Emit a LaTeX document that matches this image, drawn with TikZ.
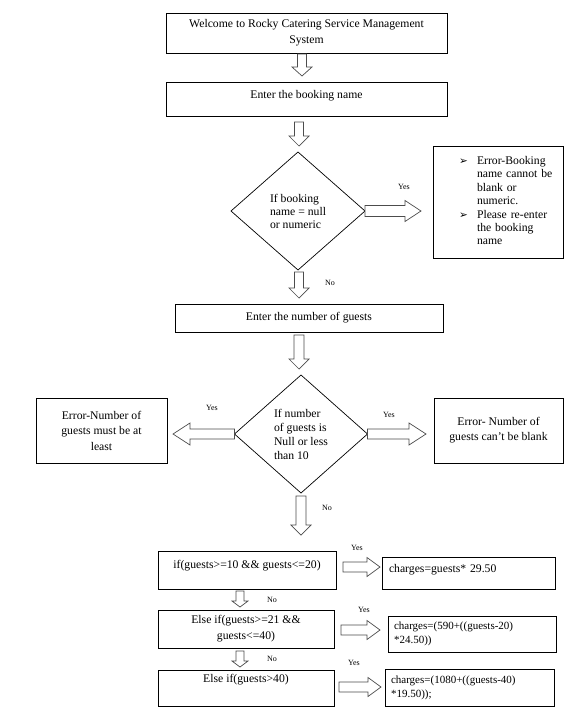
\documentclass[tikz,border=0pt]{standalone}
\usepackage{fontspec}
\setmainfont{Liberation Serif}
\newfontfamily\dvfont{DejaVu Sans}
\usetikzlibrary{shapes.geometric,calc}
\begin{document}
\begin{tikzpicture}[x=1pt,y=-1pt,
  every node/.style={inner sep=0pt, outer sep=0pt},
  box/.style={draw=black, line width=0.7pt, rectangle, anchor=north west, font=\fontsize{11.7}{14}\selectfont},
  dia/.style={draw=black, line width=0.7pt, diamond, align=left},
  lbl/.style={font=\fontsize{8}{9}\selectfont},
  harrow/.style n args={3}{draw=black!70, line width=0.7pt, fill=white, line join=miter,
    to path={let \p1=($(\tikztotarget)!#3!(\tikztostart)$) in
      ($(\tikztostart)!#1!90:(\tikztotarget)$)
      -- ($(\p1)!#1!-90:(\tikztostart)$)
      -- ($(\p1)!#2!-90:(\tikztostart)$)
      -- (\tikztotarget)
      -- ($(\p1)!#2!90:(\tikztostart)$)
      -- ($(\p1)!#1!90:(\tikztostart)$)
      -- ($(\tikztostart)!#1!-90:(\tikztotarget)$)
      -- cycle}},
]
\useasboundingbox (0,0) rectangle (576,710);

% top boxes
\node[box, minimum width=281pt, minimum height=40pt, align=center, font=\fontsize{11.7}{16}\selectfont] (b1) at (166,13)
  {Welcome to Rocky Catering Service Management\\System};
\node[box, minimum width=281pt, minimum height=34pt, text height=16.5pt, text depth=17.5pt] (b2) at (166,82)
  {Enter the booking name};
\draw[harrow={4.5pt}{10pt}{9pt}] ($(b1.south)+(-4.5,1)$) to ($(b2.north)+(-4.5,-6)$);

% first decision
\node[dia, minimum width=134pt, minimum height=118pt, font=\fontsize{11.7}{13}\selectfont] (d1) at (298,211)
  {If booking\\name = null\\or numeric};
\draw[harrow={4.5pt}{10pt}{10pt}] ($(b2.south)+(-7.5,6)$) to ($(d1.north)+(1,-6)$);

\node[box, minimum width=130pt, minimum height=112pt, text width=130pt, align=left] (e1) at (433,146)
  {\hspace*{26pt}{\fontsize{11.7}{13.4}\selectfont\begin{tabular}{@{}p{18pt}@{}l@{}}
   {\dvfont\fontsize{10.5}{9}\selectfont ➢} & Error-Booking\\
   & name cannot be\\
   & blank or\\
   & numeric.\\
   {\dvfont\fontsize{10.5}{9}\selectfont ➢} & Please re-enter\\
   & the booking\\
   & name
  \end{tabular}}};
\draw[harrow={5.5pt}{10.5pt}{16pt}] (d1.east) to ($(e1.west |- d1.east)+(-12,0)$);
\node[lbl] (y1) at (404,187) {Yes};

\node[lbl] (n1) at (330,283) {No};
\node[box, minimum width=268pt, minimum height=28pt] (b3) at (175,304) {Enter the number of guests};
\draw[harrow={4.5pt}{10pt}{10pt}] ($(d1.south)+(1,2)$) to ($(b3.north)+(-10,-6)$);

% second decision
\node[dia, minimum width=133pt, minimum height=118pt, font=\fontsize{11.7}{14}\selectfont] (d2) at (301,434)
  {If number\\of guests is\\Null or less\\than 10};
\draw[harrow={5pt}{10pt}{10pt}] ($(b3.south)+(-10,3)$) to ($(d2.north)+(-2,-6)$);

\node[box, minimum width=131pt, minimum height=65pt, align=center, font=\fontsize{11.7}{15.5}\selectfont] (lb) at (36,398)
  {Error-Number of\\guests must be at\\least};
\draw[harrow={5pt}{11pt}{17pt}] (d2.west) to ($(lb.east |- d2.west)+(6,0)$);
\node[lbl] (y2) at (212,408) {Yes};

\node[box, minimum width=129pt, minimum height=65pt, align=center, font=\fontsize{11.7}{15}\selectfont] (rb) at (434,398)
  {Error- Number of\\guests can’t be blank};
\draw[harrow={5pt}{11pt}{17pt}] (d2.east) to ($(rb.west |- d2.east)+(-8,0)$);
\node[lbl] (y3) at (389,415) {Yes};

\node[lbl] (n2) at (327,508) {No};

% charge rules
\node[box, minimum width=178pt, minimum height=38pt, text height=17pt, text depth=21pt] (b4) at (158,551)
  {if(guests>=10 \&\& guests<=20)};
\draw[harrow={5pt}{10pt}{10pt}] ($(d2.south)+(0,3)$) to ($(b4.north)+(54,-16)$);

\node[box, minimum width=173pt, minimum height=32pt, text width=159pt, inner xsep=7pt, align=left, text height=15pt, text depth=17pt] (b5) at (382,557)
  {charges=guests* 29.50};
\draw[harrow={5pt}{9.5pt}{13pt}] ($(b4.east)+(7,-3)$) to ($(b5.west |- b4.east)+(-2,-3)$);
\node[lbl] (y4) at (357,548) {Yes};

\node[box, minimum width=176pt, minimum height=38pt, align=center, font=\fontsize{11.7}{16}\selectfont] (b6) at (158,610)
  {Else if(guests>=21 \&\&\\guests<=40)};
\draw[harrow={4pt}{8pt}{6pt}] ($(b4.south)+(-7,2)$) to ($(b6.north)+(-6,-3)$);
\node[lbl] (n3) at (272,600) {No};

\node[box, minimum width=168pt, minimum height=36pt, text width=156pt, inner xsep=6pt, align=left, font=\fontsize{11}{14}\selectfont] (b7) at (388,616)
  {charges=(590+((guests-20)\\{}*24.50))};
\draw[harrow={5pt}{9.5pt}{13pt}] ($(b6.east)+(7,1)$) to ($(b7.west |- b6.east)+(-8,1)$);
\node[lbl] (y5) at (364,610) {Yes};

\node[box, minimum width=176pt, minimum height=36pt, text height=12pt, text depth=24pt] (b8) at (158,670)
  {Else if(guests>40)};
\draw[harrow={4pt}{8pt}{6pt}] ($(b6.south)+(-6,3)$) to ($(b8.north)+(-6,-3)$);
\node[lbl] (n4) at (272,659) {No};

\node[box, minimum width=169pt, minimum height=37pt, text width=157pt, inner xsep=6pt, align=left, font=\fontsize{11}{14}\selectfont] (b9) at (385,669)
  {charges=(1080+((guests-40)\\{}*19.50));};
\draw[harrow={5pt}{9.5pt}{13pt}] ($(b8.east)+(5,-1)$) to ($(b9.west |- b8.east)+(-4,-1)$);
\node[lbl] (y6) at (354,663) {Yes};
\end{tikzpicture}
\end{document}
